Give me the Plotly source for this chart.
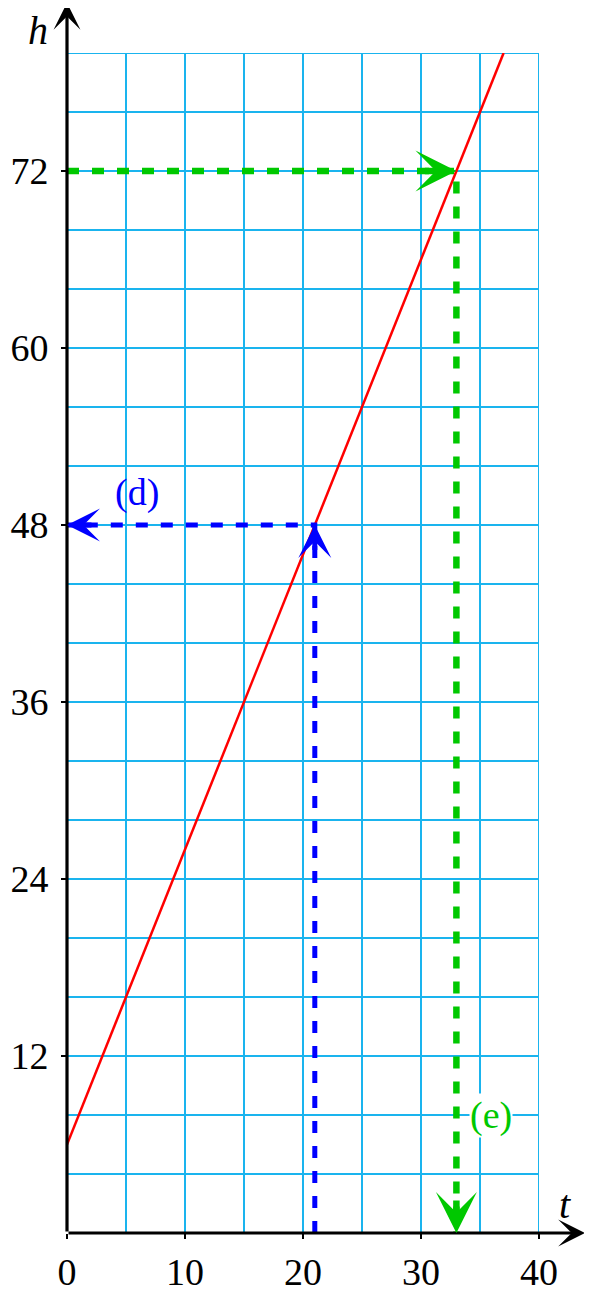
import plotly.graph_objects as go

# red line h = f(t), read at its two ends
t_line = [0, 37]
h_line = [6, 80]

# reading (d): from t = 21 up to the line, then across to h
d_t = [21, 21, 0]
d_h = [0, 48, 48]

# reading (e): from h = 72 across to the line, then down to t
e_t = [0, 33, 33]
e_h = [72, 72, 0]

x_ticks = [0, 10, 20, 30, 40]
y_ticks = [12, 24, 36, 48, 60, 72]

grid_col = "#1ab4ee"
blue = "#0000ff"
green = "#00c800"
font = "Liberation Serif"

# the page body adds an 8px offset, so the figure is a bit smaller than the window
W, H, L, R, T, B = 584, 1284, 59, 53, 45, 59

fig = go.Figure()
fig.add_trace(go.Scatter(x=t_line, y=h_line, mode="lines",
                         line=dict(color="#ff0000", width=2.5), cliponaxis=False))
fig.add_trace(go.Scatter(x=d_t, y=d_h, mode="lines",
                         line=dict(color=blue, width=5, dash="12px,13px")))
fig.add_trace(go.Scatter(x=e_t, y=e_h, mode="lines",
                         line=dict(color=green, width=6.5, dash="12px,13px")))

# grid lines on the top and right edges
fig.add_shape(type="line", x0=0, x1=40, y0=80, y1=80, line=dict(color=grid_col, width=2),
              layer="below")
fig.add_shape(type="line", x0=40, x1=40, y0=0, y1=80, line=dict(color=grid_col, width=2),
              layer="below")

ann = []
# axes with arrows
ann.append(dict(x=43.9, y=0, ax=0, ay=0, xref="x", yref="y", axref="x", ayref="y",
                showarrow=True, arrowhead=3, arrowwidth=3.2, arrowsize=1.4,
                arrowcolor="black", standoff=0, text=""))
ann.append(dict(x=0, y=83.4, ax=0, ay=0, xref="x", yref="y", axref="x", ayref="y",
                showarrow=True, arrowhead=3, arrowwidth=3.2, arrowsize=1.4,
                arrowcolor="black", standoff=0, text=""))
# arrowheads on the dashed readings
ann.append(dict(x=d_t[1], y=d_h[1], ax=d_t[1], ay=d_h[1] - 1.8, xref="x", yref="y",
                axref="x", ayref="y", showarrow=True, arrowhead=3, arrowwidth=5,
                arrowsize=1.1, arrowcolor=blue, standoff=0, text=""))
ann.append(dict(x=d_t[2], y=d_h[2], ax=d_t[2] + 2.2, ay=d_h[2], xref="x", yref="y",
                axref="x", ayref="y", showarrow=True, arrowhead=3, arrowwidth=5,
                arrowsize=1.1, arrowcolor=blue, standoff=0, text=""))
ann.append(dict(x=e_t[1], y=e_h[1], ax=e_t[1] - 2.8, ay=e_h[1], xref="x", yref="y",
                axref="x", ayref="y", showarrow=True, arrowhead=3, arrowwidth=6.5,
                arrowsize=1.05, arrowcolor=green, standoff=0, text=""))
ann.append(dict(x=e_t[2], y=e_h[2], ax=e_t[2], ay=e_h[2] + 2.3, xref="x", yref="y",
                axref="x", ayref="y", showarrow=True, arrowhead=3, arrowwidth=6.5,
                arrowsize=1.05, arrowcolor=green, standoff=0, text=""))
# labels
ann.append(dict(x=5.9, y=50.2, text="(d)", showarrow=False, xanchor="center",
                yanchor="middle", font=dict(family=font, size=38, color=blue)))
ann.append(dict(x=35.9, y=8.0, text="(e)", showarrow=False, bgcolor="white",
                xanchor="center", yanchor="middle", borderpad=0,
                font=dict(family=font, size=38, color=green)))
# axis names sit outside the data range, so place them in paper units
ann.append(dict(x=-0.061, y=1.019, xref="paper", yref="paper", text="<i>h</i>",
                showarrow=False, xanchor="center", yanchor="middle",
                font=dict(family=font, size=40, color="black")))
ann.append(dict(x=1.055, y=0.024, xref="paper", yref="paper", text="<i>t</i>",
                showarrow=False, xanchor="center", yanchor="middle",
                font=dict(family=font, size=40, color="black")))

fig.update_layout(
    width=W, height=H,
    margin=dict(l=L, r=R, t=T, b=B),
    paper_bgcolor="white", plot_bgcolor="white",
    showlegend=False,
    annotations=ann,
    xaxis=dict(range=[0, 40], tickvals=x_ticks, showgrid=True, gridcolor=grid_col,
               gridwidth=2, zeroline=False, showline=False, automargin=False,
               ticks="outside", ticklen=5, tickwidth=2, tickcolor="black",
               ticklabelstandoff=0,
               tickfont=dict(family=font, size=38, color="black"),
               minor=dict(dtick=5, tick0=0, showgrid=True, gridcolor=grid_col,
                          gridwidth=2, ticks="")),
    yaxis=dict(range=[0, 80], tickvals=y_ticks, showgrid=True, gridcolor=grid_col,
               gridwidth=2, zeroline=False, showline=False, automargin=False,
               ticks="outside", ticklen=5, tickwidth=2, tickcolor="black",
               ticklabelstandoff=5,
               tickfont=dict(family=font, size=38, color="black"),
               minor=dict(dtick=4, tick0=0, showgrid=True, gridcolor=grid_col,
                          gridwidth=2, ticks="")),
)

fig.write_html("out.html")
